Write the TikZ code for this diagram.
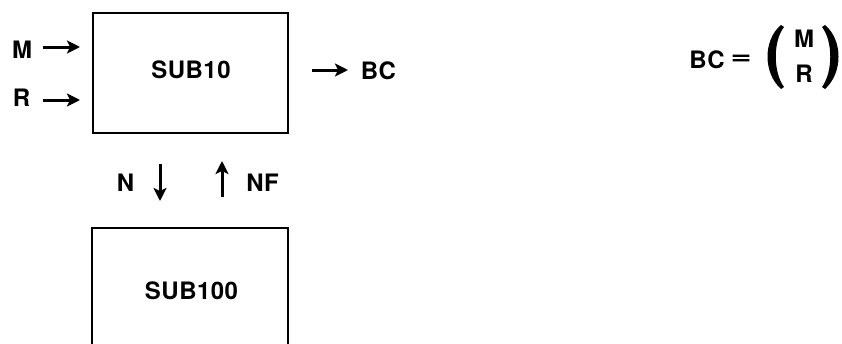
\documentclass[tikz,border=0pt]{standalone}
\usepackage{fontspec}
\setmainfont{TeX Gyre Heros}[UprightFont=*-Bold,LetterSpace=2]
\usetikzlibrary{arrows.meta}
\begin{document}
\begin{tikzpicture}[x=1pt,y=-1pt,
  every node/.style={font=\fontsize{24}{26}\selectfont, inner sep=0pt},
  blk/.style={draw, line width=1.6pt, minimum width=195pt, minimum height=120pt},
  arr/.style={line width=3pt, -{Stealth[length=13pt,width=13pt,inset=3pt]}},
  paren/.style={fill=black}]
\clip (0,0) rectangle (842,343);
% boxes
\node[blk] (sub10) at (190.5,73) {};
\node (t10) at (191,70) {SUB10};
\node[blk, minimum width=196pt, minimum height=150pt] (sub100) at (190,303) {};
\node (t100) at (191.5,291) {SUB100};
% inputs
\node (M) at (22,50) {M};
\node (R) at (21.5,98) {R};
\coordinate (m1) at (43,47);
\coordinate (m2) at (80,47);
\coordinate (r1) at (43,100);
\coordinate (r2) at (80,100);
\draw[arr] (m1) -- (m2);
\draw[arr] (r1) -- (r2);
% output
\coordinate (b1) at (312,70);
\coordinate (b2) at (348,70);
\draw[arr] (b1) -- (b2);
\node (BC) at (378.5,71) {BC};
% N / NF
\node (N) at (125.5,183) {N};
\coordinate (n1) at (160,164);
\coordinate (n2) at (160,201);
\draw[arr] (n1) -- (n2);
\coordinate (f1) at (222,197);
\coordinate (f2) at (222,161);
\draw[arr] (f1) -- (f2);
\node (NF) at (262.5,183) {NF};
% formula
\node (BC2) at (707,60) {BC};
\node[xscale=1.5] (eq) at (741,60) {=};
\node (mm) at (804,39) {M};
\node (rr) at (804,74) {R};
\fill[paren] (781,25) .. controls (763,40) and (763,73) .. (781,89)
  -- (784,87) .. controls (773,72) and (773,41) .. (784,27) -- cycle;
\fill[paren] (825,25) .. controls (843,40) and (843,73) .. (825,89)
  -- (822,87) .. controls (833,72) and (833,41) .. (822,27) -- cycle;
\end{tikzpicture}
\end{document}
